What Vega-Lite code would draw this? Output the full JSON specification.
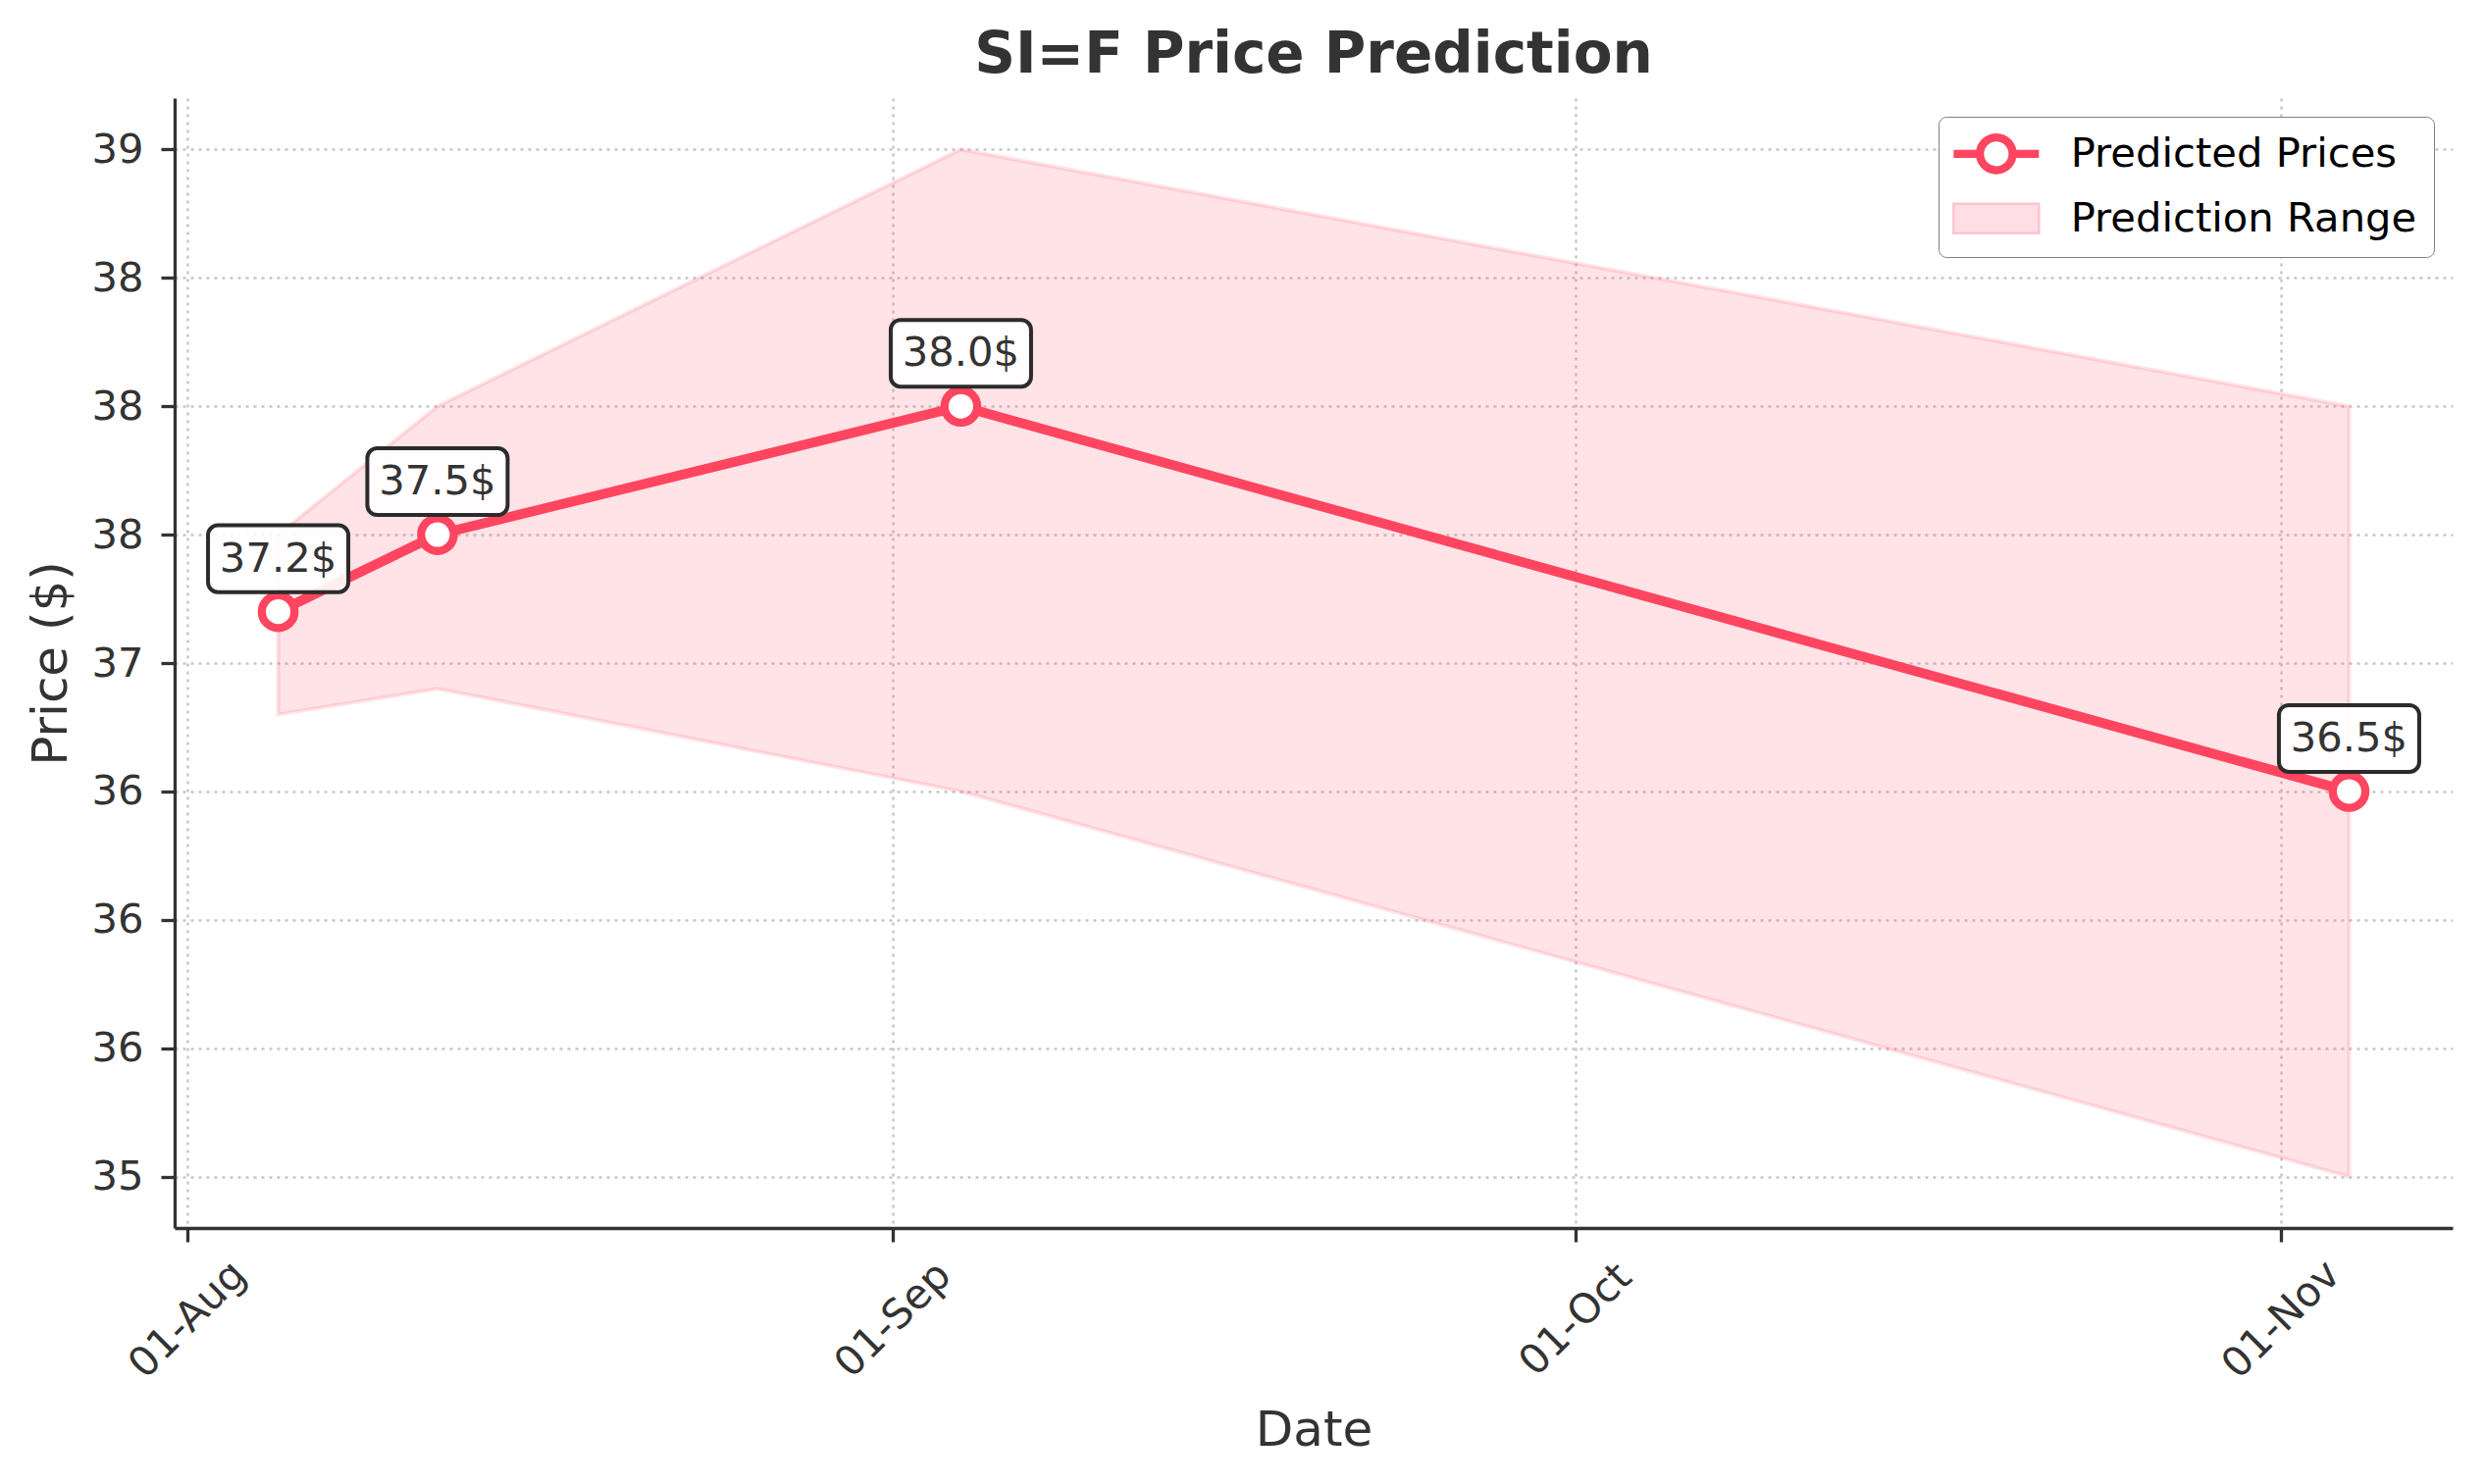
{
  "$schema": "https://vega.github.io/schema/vega-lite/v6.json",
  "description": "SI=F price prediction with prediction range.",
  "autosize": {"type": "none"},
  "padding": {"left": 178, "top": 100, "right": 32, "bottom": 261},
  "width": 2322,
  "height": 1152,
  "background": "white",
  "title": {
    "text": "SI=F Price Prediction",
    "fontSize": 58,
    "fontWeight": "bold",
    "color": "#333333",
    "anchor": "middle",
    "offset": 14
  },
  "data": {
    "values": [
      {"date": "2024-08-05T00:00:00", "price": 37.2, "lower": 36.8, "upper": 37.5, "label": "37.2$"},
      {"date": "2024-08-12T00:00:00", "price": 37.5, "lower": 36.9, "upper": 38.0, "label": "37.5$"},
      {"date": "2024-09-04T00:00:00", "price": 38.0, "lower": 36.5, "upper": 39.0, "label": "38.0$"},
      {"date": "2024-11-04T00:00:00", "price": 36.5, "lower": 35.0, "upper": 38.0, "label": "36.5$"}
    ]
  },
  "encoding": {
    "x": {
      "field": "date",
      "type": "temporal",
      "scale": {
        "domain": [
          {"year": 2024, "month": 7, "date": 31, "hours": 10, "minutes": 48},
          {"year": 2024, "month": 11, "date": 8, "hours": 13, "minutes": 12}
        ],
        "nice": false
      },
      "axis": {
        "title": "Date",
        "format": "%d-%b",
        "values": [
          {"year": 2024, "month": 8, "date": 1},
          {"year": 2024, "month": 9, "date": 1},
          {"year": 2024, "month": 10, "date": 1},
          {"year": 2024, "month": 11, "date": 1}
        ],
        "labelAngle": -45,
        "labelAlign": "center",
        "labelBaseline": "middle",
        "labelPadding": 79,
        "titlePadding": 20
      }
    }
  },
  "layer": [
    {
      "mark": {"type": "area", "color": "#ff4560", "fillOpacity": 0.15, "stroke": "#ff4560", "strokeOpacity": 0.15, "strokeWidth": 4},
      "encoding": {
        "y": {
          "field": "lower",
          "type": "quantitative",
          "scale": {"domain": [34.8, 39.2], "nice": false, "zero": false},
          "axis": {
            "title": "Price ($)",
            "values": [35, 35.5, 36, 36.5, 37, 37.5, 38, 38.5, 39],
            "labelExpr": "datum.value == 39 ? '39' : datum.value >= 37.5 ? '38' : datum.value == 37 ? '37' : datum.value >= 35.5 ? '36' : '35'",
            "labelPadding": 18,
            "titlePadding": 15
          }
        },
        "y2": {"field": "upper"}
      }
    },
    {
      "mark": {"type": "line", "color": "#ff4560", "strokeWidth": 10},
      "encoding": {"y": {"field": "price", "type": "quantitative"}}
    },
    {
      "mark": {"type": "point", "shape": "circle", "filled": true, "fill": "white", "stroke": "#ff4560", "strokeWidth": 8.3, "size": 1111, "opacity": 1},
      "encoding": {"y": {"field": "price", "type": "quantitative"}}
    },
    {
      "mark": {
        "type": "point",
        "shape": "M-0.86,-0.476H0.86A0.14,0.14 0 0 1 1,-0.336V0.336A0.14,0.14 0 0 1 0.86,0.476H-0.86A0.14,0.14 0 0 1 -1,0.336V-0.336A0.14,0.14 0 0 1 -0.86,-0.476Z",
        "size": 20449,
        "filled": true,
        "fill": "white",
        "fillOpacity": 0.9,
        "stroke": "#2b2b2b",
        "strokeWidth": 4,
        "opacity": 1,
        "yOffset": -54
      },
      "encoding": {"y": {"field": "price", "type": "quantitative"}}
    },
    {
      "mark": {"type": "text", "fontSize": 41.7, "color": "#333333", "align": "center", "baseline": "middle", "yOffset": -54},
      "encoding": {
        "y": {"field": "price", "type": "quantitative"},
        "text": {"field": "label"}
      }
    },
    {
      "data": {"values": [{"series": "Predicted Prices"}, {"series": "Prediction Range"}]},
      "transform": [{"filter": "false"}],
      "mark": {"type": "point", "filled": true},
      "encoding": {
        "x": {"value": 0},
        "y": {"value": 0},
        "shape": {
          "field": "series",
          "type": "nominal",
          "scale": {
            "domain": ["Predicted Prices", "Prediction Range"],
            "range": [
              "M-2.07,0H-0.795M0.795,0H2.07M0.795,0A0.795,0.795 0 1,1 -0.795,0A0.795,0.795 0 1,1 0.795,0Z",
              "M-2.07,-0.714H2.07V0.714H-2.07Z"
            ]
          },
          "legend": {
            "title": null,
            "encode": {"symbols": {"update": {"strokeWidth": {"signal": "datum.value === 'Predicted Prices' ? 8.3 : 2.5"}}}}
          }
        },
        "fill": {
          "field": "series",
          "type": "nominal",
          "scale": {"domain": ["Predicted Prices", "Prediction Range"], "range": ["white", "#ffdfe5"]},
          "legend": {
            "title": null,
            "encode": {"symbols": {"update": {"strokeWidth": {"signal": "datum.value === 'Predicted Prices' ? 8.3 : 2.5"}}}}
          }
        },
        "stroke": {
          "field": "series",
          "type": "nominal",
          "scale": {"domain": ["Predicted Prices", "Prediction Range"], "range": ["#ff4560", "#ffc4cf"]},
          "legend": {
            "title": null,
            "encode": {"symbols": {"update": {"strokeWidth": {"signal": "datum.value === 'Predicted Prices' ? 8.3 : 2.5"}}}}
          }
        }
      }
    }
  ],
  "config": {
    "font": "DejaVu Sans",
    "view": {"stroke": null},
    "axis": {
      "labelFontSize": 41.7,
      "labelColor": "#333333",
      "labelFont": "DejaVu Sans",
      "titleFontSize": 50,
      "titleFontWeight": "normal",
      "titleColor": "#333333",
      "titleFont": "DejaVu Sans",
      "tickSize": 14,
      "tickWidth": 3.3,
      "tickColor": "#333333",
      "domainColor": "#333333",
      "domainWidth": 3.3,
      "grid": true,
      "gridColor": "#c8c8c8",
      "gridDash": [3, 5],
      "gridWidth": 2.5,
      "labelOverlap": false,
      "labelFlush": false
    },
    "legend": {
      "orient": "top-right",
      "offset": 19,
      "padding": 17,
      "strokeColor": "#808080",
      "fillColor": "white",
      "cornerRadius": 8,
      "labelFontSize": 41.7,
      "labelColor": "black",
      "labelFont": "DejaVu Sans",
      "labelLimit": 0,
      "symbolSize": 1764,
      "symbolStrokeWidth": 8.3,
      "symbolOffset": 21,
      "labelOffset": 55,
      "rowPadding": 11,
      "symbolOpacity": 1
    }
  }
}
